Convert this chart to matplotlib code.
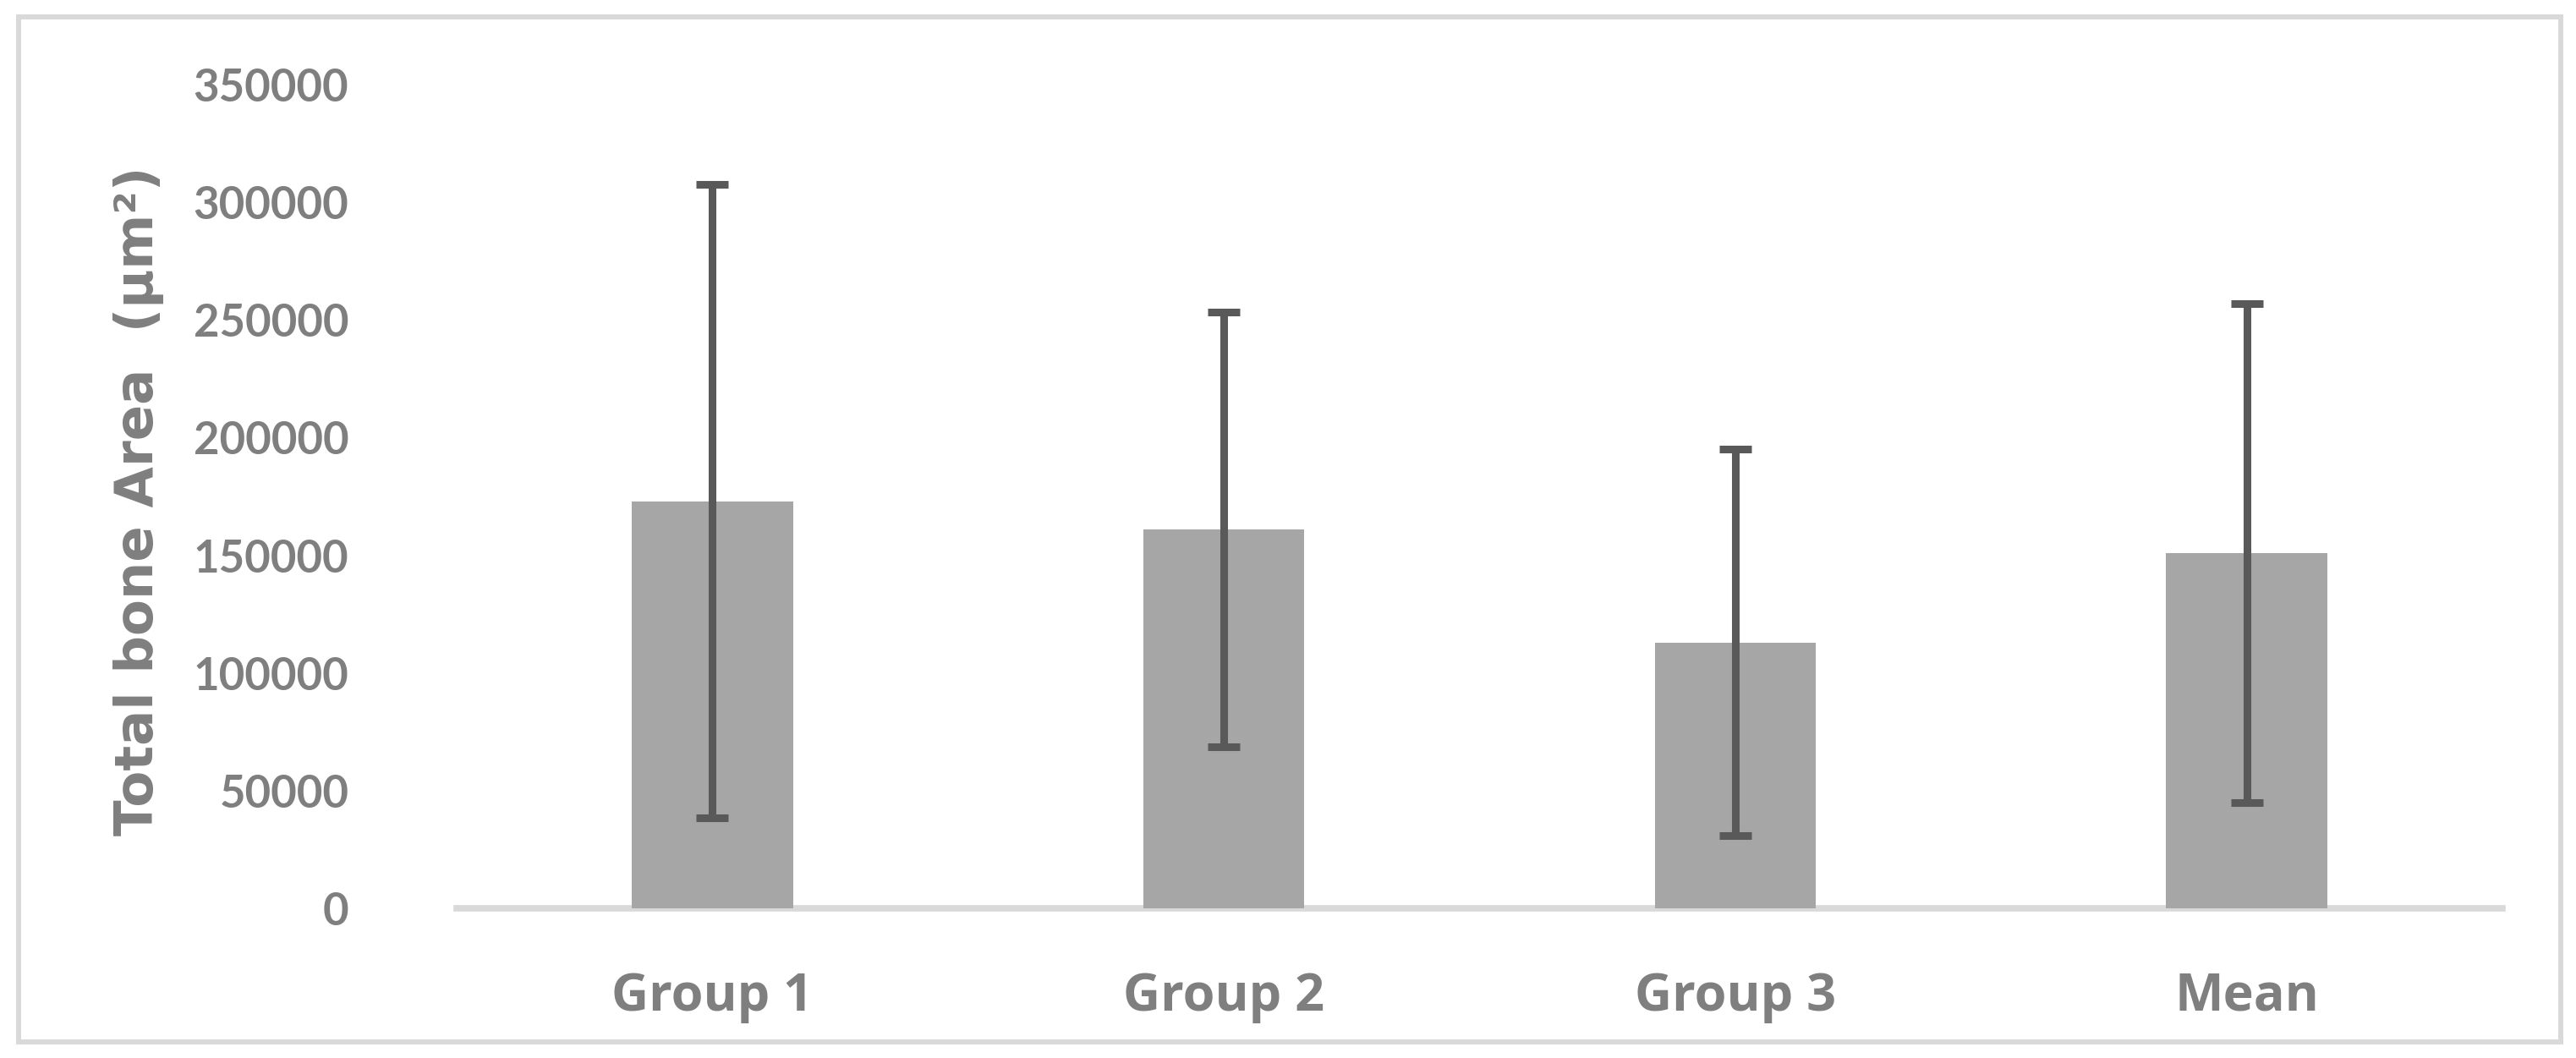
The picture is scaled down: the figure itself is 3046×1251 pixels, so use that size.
import numpy as np
import matplotlib.pyplot as plt
from matplotlib.patches import Rectangle

# Dati
gruppi = ["Group 1", "Group 2", "Group 3", "Mean"]
medie = [173000, 161000, 113000, 151000]
errori = [134500, 92500, 82000, 106000]
yticks = [0, 50000, 100000, 150000, 200000, 250000, 300000, 350000]

grigio_testo = "#7f7f7f"
grigio_barre = "#a6a6a6"
grigio_err = "#595959"
grigio_linee = "#d9d9d9"

fig = plt.figure(figsize=(30.46, 12.51), dpi=100)
ax = fig.add_axes([0.1773, 0.1415, 0.9714 - 0.1773, 0.920 - 0.1415])

x = np.arange(len(gruppi))
ax.bar(x, medie, width=0.315, color=grigio_barre, zorder=2)
ax.errorbar(x, medie, yerr=errori, fmt="none", ecolor=grigio_err,
            elinewidth=6.5, capsize=13.5, capthick=6.5, zorder=3)

ax.set_xlim(-0.5, 3.5)
ax.set_ylim(0, 350000)
ax.set_yticks(yticks)
ax.set_yticklabels([str(v) for v in yticks])
ax.set_xticks(x)
ax.set_xticklabels(gruppi)

for s in ["top", "right", "left"]:
    ax.spines[s].set_visible(False)
ax.spines["bottom"].set_color(grigio_linee)
ax.spines["bottom"].set_linewidth(5.5)
ax.spines["bottom"].set_zorder(1)

ax.tick_params(axis="y", length=0, pad=92, labelsize=38, labelcolor=grigio_testo)
ax.tick_params(axis="x", length=0, pad=54, labelsize=44, labelcolor=grigio_testo)
for lab in ax.get_yticklabels():
    lab.set_fontfamily("Lato")
    lab.set_fontweight("bold")
for lab in ax.get_xticklabels():
    lab.set_fontfamily("Open Sans")
    lab.set_fontweight("bold")

ax.set_ylabel("Total bone Area  (μm²)", fontsize=45, fontweight="bold",
              color=grigio_testo, family="DejaVu Sans")
ax.yaxis.set_label_coords(-0.143, 0.495)

# cornice esterna
fig.patches.append(Rectangle((22 / 3046, 1 - 1232 / 1251), 3006 / 3046, 1212 / 1251,
                             transform=fig.transFigure, fill=False,
                             edgecolor=grigio_linee, linewidth=4.3))

fig.savefig("out.png", dpi=100)
